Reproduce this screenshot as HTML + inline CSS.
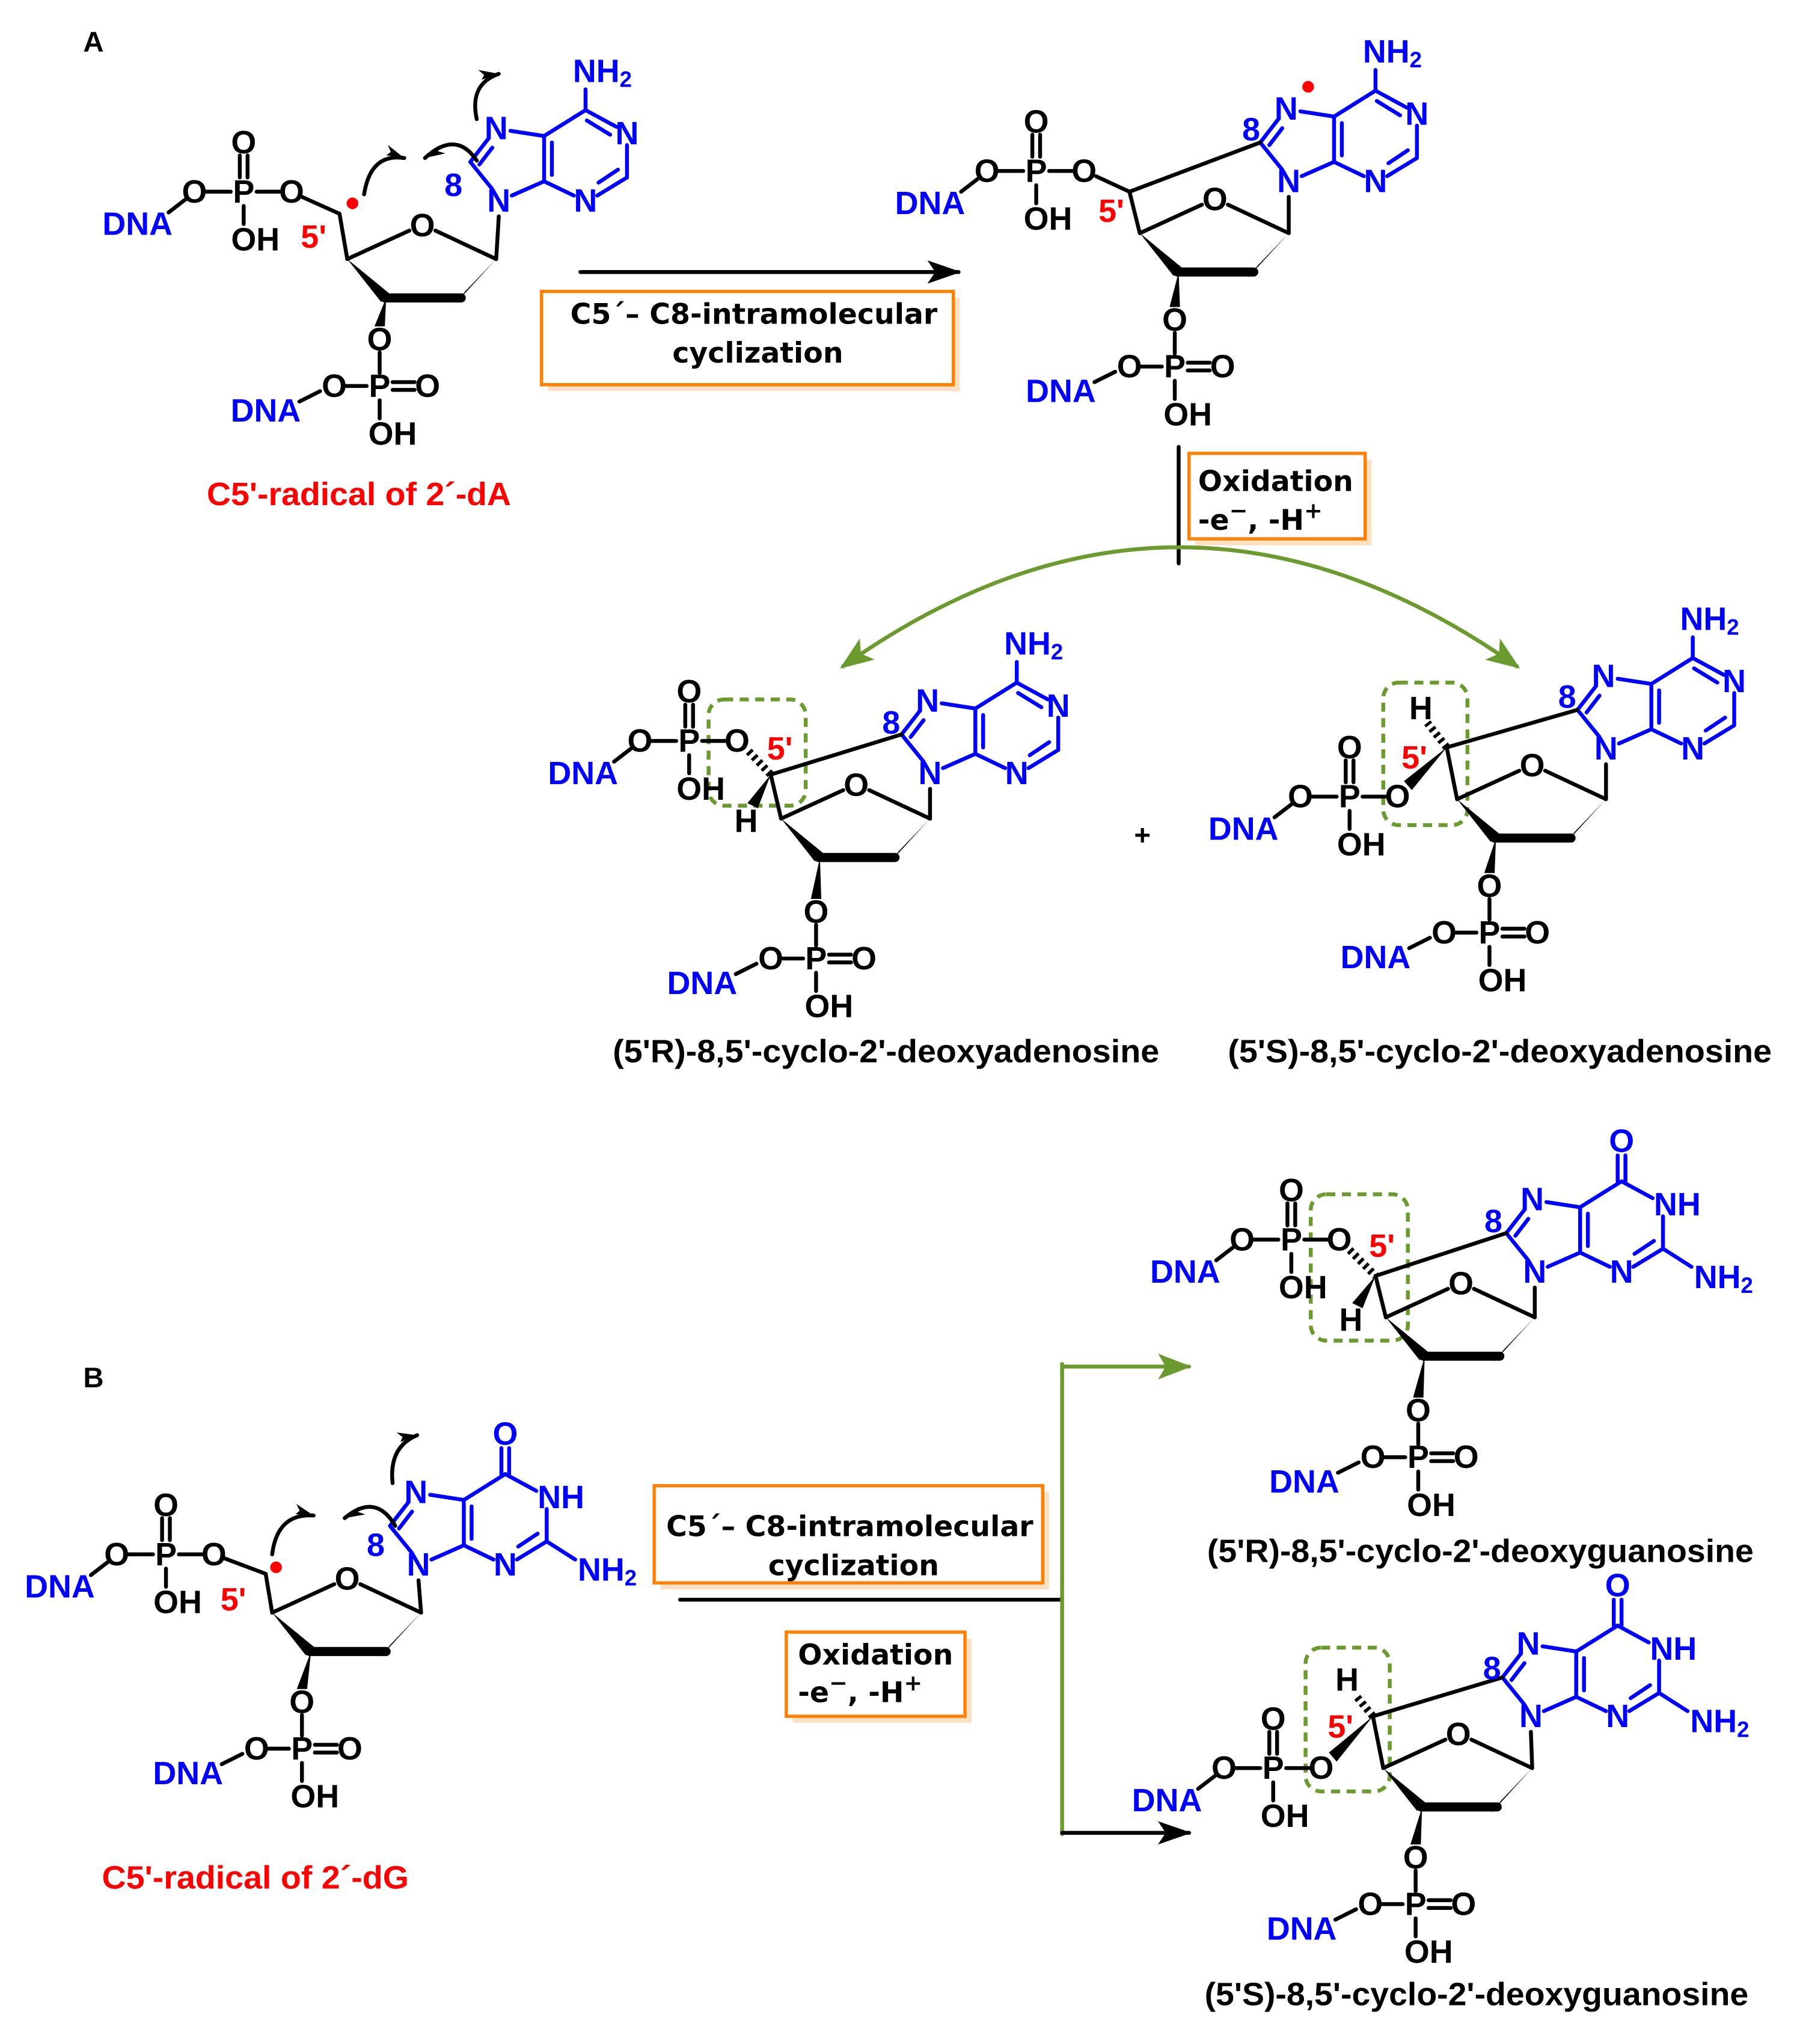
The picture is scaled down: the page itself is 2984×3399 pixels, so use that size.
<!DOCTYPE html>
<html><head><meta charset="utf-8">
<style>
html,body{margin:0;padding:0;background:#fff;}
svg{display:block;}
.t{font-family:"Liberation Sans Narrow","Liberation Sans",sans-serif;font-weight:bold;font-size:25px;text-anchor:middle;dominant-baseline:central;fill:#000;}
.bl{fill:#0000ff;}
.rd{fill:#ff0000;}
.lab{font-family:"Liberation Sans",sans-serif;font-weight:bold;font-size:25px;text-anchor:middle;fill:#000;}
.bx{font-family:"DejaVu Sans",sans-serif;font-weight:bold;font-size:22px;fill:#000;}
line,path.b{stroke:#000;stroke-width:3;stroke-linecap:round;fill:none;}
.bb line{stroke:#0000ff;}
polygon{fill:#000;}
.hash{stroke-width:6;stroke-dasharray:2.5,3;stroke-linecap:butt;}
.gbox{fill:none;stroke:#6b9a2f;stroke-width:3;stroke-dasharray:7,5;}
</style></head><body>
<svg width="2984" height="3399" viewBox="0 0 1385 1578" xmlns="http://www.w3.org/2000/svg">
<defs>
<marker id="ga" markerWidth="26" markerHeight="20" refX="24" refY="10" orient="auto-start-reverse" markerUnits="userSpaceOnUse"><path d="M0,0 L26,10 L0,20 L6,10 Z" fill="#6b9a2f"/></marker>
<marker id="ka" markerWidth="26" markerHeight="18" refX="24" refY="9" orient="auto" markerUnits="userSpaceOnUse"><path d="M0,0 L26,9 L0,18 L6,9 Z" fill="#000"/></marker>
<marker id="fh" markerWidth="16" markerHeight="12" refX="14" refY="8" orient="auto" markerUnits="userSpaceOnUse"><path d="M0,0 L14,8 L0,8 L3,5 Z" fill="#000"/></marker>
</defs>
<rect width="1385" height="1578" fill="#fff"/>

<text class="lab" x="72" y="40" style="font-size:22px">A</text>
<text class="lab" x="72" y="1071" style="font-size:22px">B</text>

<!-- ========== Molecule 1 ========== -->
<g transform="translate(188,148)"><line x1="-30" y1="0" x2="-10" y2="0"/><line x1="10" y1="0" x2="28" y2="0"/><line x1="-3" y1="-28" x2="-3" y2="-11"/><line x1="3" y1="-28" x2="3" y2="-11"/><line x1="0" y1="11" x2="0" y2="25"/><line x1="-58" y1="16" x2="-45" y2="6"/><text class="t" x="-38" y="0">O</text><text class="t" x="0" y="0">P</text><text class="t" x="37" y="0">O</text><text class="t" x="0" y="-38">O</text><text class="t" x="9" y="37">OH</text><text class="t bl" x="-82" y="25">DNA</text></g>
<g transform="translate(268,200)"><line x1="0" y1="0" x2="48" y2="-22"/><line x1="68" y1="-22" x2="115" y2="0"/><polygon points="0,0 26,33 33,27"/><line x1="29" y1="30" x2="88" y2="30" style="stroke-width:7"/><polygon points="83,35 91,25 115,0"/><text class="t" x="58" y="-26">O</text></g>
<g transform="translate(293,298)"><line x1="0" y1="-26" x2="0" y2="-10"/><line x1="-26" y1="0" x2="-10" y2="0"/><line x1="10" y1="-3" x2="27" y2="-3"/><line x1="10" y1="3" x2="27" y2="3"/><line x1="0" y1="11" x2="0" y2="25"/><line x1="-62" y1="12" x2="-46" y2="4"/><text class="t" x="0" y="-36">O</text><text class="t" x="-35" y="0">O</text><text class="t" x="0" y="0">P</text><text class="t" x="37" y="0">O</text><text class="t" x="10" y="37">OH</text><text class="t bl" x="-88" y="19">DNA</text></g>
<g class="bb" transform="translate(385,155)"><line x1="-5" y1="-9" x2="-22" y2="-30"/><line x1="-22" y1="-30" x2="-8" y2="-48"/><line x1="-15" y1="-28" x2="-5" y2="-41"/><line x1="9" y1="-54" x2="35" y2="-50"/><line x1="35" y1="-50" x2="35" y2="-15"/><line x1="41" y1="-45" x2="41" y2="-20"/><line x1="35" y1="-15" x2="10" y2="-4"/><line x1="35" y1="-50" x2="67" y2="-70"/><line x1="67" y1="-70" x2="91" y2="-57"/><line x1="68" y1="-62" x2="86" y2="-51"/><line x1="99" y1="-43" x2="99" y2="-18"/><line x1="99" y1="-18" x2="76" y2="-4"/><line x1="92" y1="-24" x2="77" y2="-14"/><line x1="58" y1="-4" x2="35" y2="-15"/><line x1="67" y1="-70" x2="67" y2="-86"/><text class="t bl" x="0" y="0">N</text><text class="t bl" x="-2" y="-56">N</text><text class="t bl" x="99" y="-52">N</text><text class="t bl" x="67" y="0">N</text><text class="t bl" x="80" y="-100">NH<tspan font-size="17" dy="6">2</tspan></text></g>
<line x1="233" y1="152" x2="262" y2="165"/><line x1="262" y1="165" x2="268" y2="200"/><line x1="383" y1="200" x2="385" y2="167"/>
<polygon points="298,230 289,252 297,252"/>
<circle cx="272" cy="157" r="4.5" fill="#f00"/>
<text class="t rd" x="242" y="183">5'</text><text class="t bl" x="350" y="143">8</text>
<path class="b" d="M281,150 Q286,118 312,122" marker-end="url(#fh)"/>
<path class="b" d="M368,124 Q352,100 328,122" marker-end="url(#fh)"/>
<path class="b" d="M368,92 Q362,65 385,57" marker-end="url(#fh)"/>
<text class="lab rd" x="277" y="390" style="fill:#f00" textLength="235" lengthAdjust="spacingAndGlyphs">C5'-radical of 2´-dA</text>

<!-- arrow A -->
<line x1="448" y1="210" x2="740" y2="210" marker-end="url(#ka)"/>
<rect x="423" y="230" width="318" height="72" fill="#fde0c2"/>
<rect x="418" y="225" width="318" height="72" fill="#fff" stroke="#ff8000" stroke-width="2.5"/>
<text class="bx" x="582" y="250" text-anchor="middle">C5´– C8-intramolecular</text>
<text class="bx" x="585" y="280" text-anchor="middle">cyclization</text>

<!-- ========== Molecule 2 ========== -->
<g transform="translate(800,132)"><line x1="-30" y1="0" x2="-10" y2="0"/><line x1="10" y1="0" x2="28" y2="0"/><line x1="-3" y1="-28" x2="-3" y2="-11"/><line x1="3" y1="-28" x2="3" y2="-11"/><line x1="0" y1="11" x2="0" y2="25"/><line x1="-58" y1="16" x2="-45" y2="6"/><text class="t" x="-38" y="0">O</text><text class="t" x="0" y="0">P</text><text class="t" x="37" y="0">O</text><text class="t" x="0" y="-38">O</text><text class="t" x="9" y="37">OH</text><text class="t bl" x="-82" y="25">DNA</text></g>
<g transform="translate(880,180)"><line x1="0" y1="0" x2="48" y2="-22"/><line x1="68" y1="-22" x2="115" y2="0"/><polygon points="0,0 26,33 33,27"/><line x1="29" y1="30" x2="88" y2="30" style="stroke-width:7"/><polygon points="83,35 91,25 115,0"/><text class="t" x="58" y="-26">O</text></g>
<g transform="translate(907,283)"><line x1="0" y1="-26" x2="0" y2="-10"/><line x1="-26" y1="0" x2="-10" y2="0"/><line x1="10" y1="-3" x2="27" y2="-3"/><line x1="10" y1="3" x2="27" y2="3"/><line x1="0" y1="11" x2="0" y2="25"/><line x1="-62" y1="12" x2="-46" y2="4"/><text class="t" x="0" y="-36">O</text><text class="t" x="-35" y="0">O</text><text class="t" x="0" y="0">P</text><text class="t" x="37" y="0">O</text><text class="t" x="10" y="37">OH</text><text class="t bl" x="-88" y="19">DNA</text></g>
<g class="bb" transform="translate(995,140)"><line x1="-5" y1="-9" x2="-22" y2="-30"/><line x1="-22" y1="-30" x2="-8" y2="-48"/><line x1="-15" y1="-28" x2="-5" y2="-41"/><line x1="9" y1="-54" x2="35" y2="-50"/><line x1="35" y1="-50" x2="35" y2="-15"/><line x1="41" y1="-45" x2="41" y2="-20"/><line x1="35" y1="-15" x2="10" y2="-4"/><line x1="35" y1="-50" x2="67" y2="-70"/><line x1="67" y1="-70" x2="91" y2="-57"/><line x1="68" y1="-62" x2="86" y2="-51"/><line x1="99" y1="-43" x2="99" y2="-18"/><line x1="99" y1="-18" x2="76" y2="-4"/><line x1="92" y1="-24" x2="77" y2="-14"/><line x1="58" y1="-4" x2="35" y2="-15"/><line x1="67" y1="-70" x2="67" y2="-86"/><text class="t bl" x="0" y="0">N</text><text class="t bl" x="-2" y="-56">N</text><text class="t bl" x="99" y="-52">N</text><text class="t bl" x="67" y="0">N</text><text class="t bl" x="80" y="-100">NH<tspan font-size="17" dy="6">2</tspan></text></g>
<line x1="846" y1="136" x2="872" y2="148"/><line x1="872" y1="148" x2="880" y2="180"/><line x1="872" y1="148" x2="973" y2="110"/><line x1="995" y1="180" x2="995" y2="152"/>
<polygon points="910,210 903,237 911,237"/>
<text class="t rd" x="858" y="163">5'</text><text class="t bl" x="966" y="100">8</text>
<circle cx="1010" cy="67" r="4.5" fill="#f00"/>

<!-- Oxidation A -->
<line x1="910" y1="345" x2="910" y2="435"/>
<rect x="923" y="355" width="136" height="66" fill="#fde0c2"/>
<rect x="918" y="350" width="136" height="66" fill="#fff" stroke="#ff8000" stroke-width="2.5"/>
<text class="bx" x="925" y="379">Oxidation</text>
<text class="bx" x="925" y="409">-e<tspan dy="-9" font-size="17">−</tspan><tspan dy="9">, -H</tspan><tspan dy="-9" font-size="17">+</tspan></text>
<path d="M650,515 Q910,330 1172,515" fill="none" stroke="#6b9a2f" stroke-width="3" marker-start="url(#ga)" marker-end="url(#ga)"/>

<!-- ========== Molecule 3 (5'R dA) ========== -->
<rect class="gbox" x="547" y="540" width="75" height="82" rx="12"/>
<g transform="translate(532,572)"><line x1="-30" y1="0" x2="-10" y2="0"/><line x1="10" y1="0" x2="28" y2="0"/><line x1="-3" y1="-28" x2="-3" y2="-11"/><line x1="3" y1="-28" x2="3" y2="-11"/><line x1="0" y1="11" x2="0" y2="25"/><line x1="-58" y1="16" x2="-45" y2="6"/><text class="t" x="-38" y="0">O</text><text class="t" x="0" y="0">P</text><text class="t" x="37" y="0">O</text><text class="t" x="0" y="-38">O</text><text class="t" x="9" y="37">OH</text><text class="t bl" x="-82" y="25">DNA</text></g>
<g transform="translate(603,632)"><line x1="0" y1="0" x2="48" y2="-22"/><line x1="68" y1="-22" x2="115" y2="0"/><polygon points="0,0 26,33 33,27"/><line x1="29" y1="30" x2="88" y2="30" style="stroke-width:7"/><polygon points="83,35 91,25 115,0"/><text class="t" x="58" y="-26">O</text></g>
<g transform="translate(630,740)"><line x1="0" y1="-26" x2="0" y2="-10"/><line x1="-26" y1="0" x2="-10" y2="0"/><line x1="10" y1="-3" x2="27" y2="-3"/><line x1="10" y1="3" x2="27" y2="3"/><line x1="0" y1="11" x2="0" y2="25"/><line x1="-62" y1="12" x2="-46" y2="4"/><text class="t" x="0" y="-36">O</text><text class="t" x="-35" y="0">O</text><text class="t" x="0" y="0">P</text><text class="t" x="37" y="0">O</text><text class="t" x="10" y="37">OH</text><text class="t bl" x="-88" y="19">DNA</text></g>
<g class="bb" transform="translate(718,597)"><line x1="-5" y1="-9" x2="-22" y2="-30"/><line x1="-22" y1="-30" x2="-8" y2="-48"/><line x1="-15" y1="-28" x2="-5" y2="-41"/><line x1="9" y1="-54" x2="35" y2="-50"/><line x1="35" y1="-50" x2="35" y2="-15"/><line x1="41" y1="-45" x2="41" y2="-20"/><line x1="35" y1="-15" x2="10" y2="-4"/><line x1="35" y1="-50" x2="67" y2="-70"/><line x1="67" y1="-70" x2="91" y2="-57"/><line x1="68" y1="-62" x2="86" y2="-51"/><line x1="99" y1="-43" x2="99" y2="-18"/><line x1="99" y1="-18" x2="76" y2="-4"/><line x1="92" y1="-24" x2="77" y2="-14"/><line x1="58" y1="-4" x2="35" y2="-15"/><line x1="67" y1="-70" x2="67" y2="-86"/><text class="t bl" x="0" y="0">N</text><text class="t bl" x="-2" y="-56">N</text><text class="t bl" x="99" y="-52">N</text><text class="t bl" x="67" y="0">N</text><text class="t bl" x="80" y="-100">NH<tspan font-size="17" dy="6">2</tspan></text></g>
<line class="hash" x1="578" y1="580" x2="595" y2="598"/>
<line x1="595" y1="598" x2="603" y2="632"/><line x1="595" y1="598" x2="696" y2="567"/><line x1="718" y1="632" x2="718" y2="609"/>
<polygon points="595,598 577,620 585,624"/>
<text class="t" x="576" y="634">H</text>
<polygon points="633,662 626,694 634,694"/>
<text class="t rd" x="602" y="578">5'</text><text class="t bl" x="688" y="558">8</text>
<text class="lab" x="684" y="820" textLength="422" lengthAdjust="spacingAndGlyphs">(5'R)-8,5'-cyclo-2'-deoxyadenosine</text>

<text class="lab" x="882" y="652" style="font-size:22px">+</text>

<!-- ========== Molecule 4 (5'S dA) ========== -->
<rect class="gbox" x="1068" y="527" width="65" height="110" rx="12"/>
<g transform="translate(1042,615)"><line x1="-30" y1="0" x2="-10" y2="0"/><line x1="10" y1="0" x2="28" y2="0"/><line x1="-3" y1="-28" x2="-3" y2="-11"/><line x1="3" y1="-28" x2="3" y2="-11"/><line x1="0" y1="11" x2="0" y2="25"/><line x1="-58" y1="16" x2="-45" y2="6"/><text class="t" x="-38" y="0">O</text><text class="t" x="0" y="0">P</text><text class="t" x="37" y="0">O</text><text class="t" x="0" y="-38">O</text><text class="t" x="9" y="37">OH</text><text class="t bl" x="-82" y="25">DNA</text></g>
<g transform="translate(1125,617)"><line x1="0" y1="0" x2="48" y2="-22"/><line x1="68" y1="-22" x2="115" y2="0"/><polygon points="0,0 26,33 33,27"/><line x1="29" y1="30" x2="88" y2="30" style="stroke-width:7"/><polygon points="83,35 91,25 115,0"/><text class="t" x="58" y="-26">O</text></g>
<g transform="translate(1150,720)"><line x1="0" y1="-26" x2="0" y2="-10"/><line x1="-26" y1="0" x2="-10" y2="0"/><line x1="10" y1="-3" x2="27" y2="-3"/><line x1="10" y1="3" x2="27" y2="3"/><line x1="0" y1="11" x2="0" y2="25"/><line x1="-62" y1="12" x2="-46" y2="4"/><text class="t" x="0" y="-36">O</text><text class="t" x="-35" y="0">O</text><text class="t" x="0" y="0">P</text><text class="t" x="37" y="0">O</text><text class="t" x="10" y="37">OH</text><text class="t bl" x="-88" y="19">DNA</text></g>
<g class="bb" transform="translate(1240,578)"><line x1="-5" y1="-9" x2="-22" y2="-30"/><line x1="-22" y1="-30" x2="-8" y2="-48"/><line x1="-15" y1="-28" x2="-5" y2="-41"/><line x1="9" y1="-54" x2="35" y2="-50"/><line x1="35" y1="-50" x2="35" y2="-15"/><line x1="41" y1="-45" x2="41" y2="-20"/><line x1="35" y1="-15" x2="10" y2="-4"/><line x1="35" y1="-50" x2="67" y2="-70"/><line x1="67" y1="-70" x2="91" y2="-57"/><line x1="68" y1="-62" x2="86" y2="-51"/><line x1="99" y1="-43" x2="99" y2="-18"/><line x1="99" y1="-18" x2="76" y2="-4"/><line x1="92" y1="-24" x2="77" y2="-14"/><line x1="58" y1="-4" x2="35" y2="-15"/><line x1="67" y1="-70" x2="67" y2="-86"/><text class="t bl" x="0" y="0">N</text><text class="t bl" x="-2" y="-56">N</text><text class="t bl" x="99" y="-52">N</text><text class="t bl" x="67" y="0">N</text><text class="t bl" x="80" y="-100">NH<tspan font-size="17" dy="6">2</tspan></text></g>
<polygon points="1117,577 1084,603 1090,610"/>
<line class="hash" x1="1117" y1="577" x2="1102" y2="558"/>
<text class="t" x="1097" y="547">H</text>
<line x1="1117" y1="577" x2="1125" y2="617"/><line x1="1117" y1="577" x2="1218" y2="548"/><line x1="1240" y1="617" x2="1240" y2="590"/>
<polygon points="1155,647 1146,674 1154,674"/>
<text class="t rd" x="1092" y="585">5'</text><text class="t bl" x="1210" y="538">8</text>
<text class="lab" x="1158" y="820" textLength="420" lengthAdjust="spacingAndGlyphs">(5'S)-8,5'-cyclo-2'-deoxyadenosine</text>

<!-- ========== Molecule 5 (dG radical) ========== -->
<g transform="translate(128,1200)"><line x1="-30" y1="0" x2="-10" y2="0"/><line x1="10" y1="0" x2="28" y2="0"/><line x1="-3" y1="-28" x2="-3" y2="-11"/><line x1="3" y1="-28" x2="3" y2="-11"/><line x1="0" y1="11" x2="0" y2="25"/><line x1="-58" y1="16" x2="-45" y2="6"/><text class="t" x="-38" y="0">O</text><text class="t" x="0" y="0">P</text><text class="t" x="37" y="0">O</text><text class="t" x="0" y="-38">O</text><text class="t" x="9" y="37">OH</text><text class="t bl" x="-82" y="25">DNA</text></g>
<g transform="translate(210,1245)"><line x1="0" y1="0" x2="48" y2="-22"/><line x1="68" y1="-22" x2="115" y2="0"/><polygon points="0,0 26,33 33,27"/><line x1="29" y1="30" x2="88" y2="30" style="stroke-width:7"/><polygon points="83,35 91,25 115,0"/><text class="t" x="58" y="-26">O</text></g>
<g transform="translate(233,1350)"><line x1="0" y1="-26" x2="0" y2="-10"/><line x1="-26" y1="0" x2="-10" y2="0"/><line x1="10" y1="-3" x2="27" y2="-3"/><line x1="10" y1="3" x2="27" y2="3"/><line x1="0" y1="11" x2="0" y2="25"/><line x1="-62" y1="12" x2="-46" y2="4"/><text class="t" x="0" y="-36">O</text><text class="t" x="-35" y="0">O</text><text class="t" x="0" y="0">P</text><text class="t" x="37" y="0">O</text><text class="t" x="10" y="37">OH</text><text class="t bl" x="-88" y="19">DNA</text></g>
<g class="bb" transform="translate(323,1208)"><line x1="-5" y1="-9" x2="-22" y2="-30"/><line x1="-22" y1="-30" x2="-8" y2="-48"/><line x1="-15" y1="-28" x2="-5" y2="-41"/><line x1="9" y1="-54" x2="35" y2="-50"/><line x1="35" y1="-50" x2="35" y2="-15"/><line x1="41" y1="-45" x2="41" y2="-20"/><line x1="35" y1="-15" x2="10" y2="-4"/><line x1="35" y1="-50" x2="67" y2="-70"/><line x1="67" y1="-70" x2="91" y2="-57"/><line x1="99" y1="-43" x2="99" y2="-18"/><line x1="99" y1="-18" x2="76" y2="-4"/><line x1="92" y1="-24" x2="77" y2="-14"/><line x1="58" y1="-4" x2="35" y2="-15"/><line x1="64" y1="-70" x2="64" y2="-90"/><line x1="70" y1="-70" x2="70" y2="-90"/><line x1="99" y1="-18" x2="121" y2="-4"/><text class="t bl" x="0" y="0">N</text><text class="t bl" x="-2" y="-56">N</text><text class="t bl" x="92" y="-52" style="text-anchor:start">NH</text><text class="t bl" x="67" y="0">N</text><text class="t bl" x="67" y="-101">O</text><text class="t bl" x="123" y="4" style="text-anchor:start">NH<tspan font-size="17" dy="6">2</tspan></text></g>
<line x1="173" y1="1203" x2="205" y2="1215"/><line x1="205" y1="1215" x2="210" y2="1245"/><line x1="325" y1="1245" x2="323" y2="1220"/>
<polygon points="240,1275 229,1304 237,1304"/>
<circle cx="213" cy="1210" r="4.5" fill="#f00"/>
<text class="t rd" x="180" y="1235">5'</text><text class="t bl" x="290" y="1193">8</text>
<path class="b" d="M210,1200 Q214,1168 242,1170" marker-end="url(#fh)"/>
<path class="b" d="M305,1178 Q290,1152 266,1172" marker-end="url(#fh)"/>
<path class="b" d="M303,1145 Q300,1117 322,1108" marker-end="url(#fh)"/>
<text class="lab" x="197" y="1458" style="fill:#f00" textLength="237" lengthAdjust="spacingAndGlyphs">C5'-radical of 2´-dG</text>

<!-- B middle -->
<rect x="510" y="1152" width="300" height="75" fill="#fde0c2"/>
<rect x="505" y="1147" width="300" height="75" fill="#fff" stroke="#ff8000" stroke-width="2.5"/>
<text class="bx" x="656" y="1186" text-anchor="middle">C5´– C8-intramolecular</text>
<text class="bx" x="659" y="1216" text-anchor="middle">cyclization</text>
<line x1="525" y1="1235" x2="820" y2="1235"/>
<rect x="612" y="1265" width="138" height="65" fill="#fde0c2"/>
<rect x="607" y="1260" width="138" height="65" fill="#fff" stroke="#ff8000" stroke-width="2.5"/>
<text class="bx" x="616" y="1285">Oxidation</text>
<text class="bx" x="616" y="1314">-e<tspan dy="-9" font-size="17">−</tspan><tspan dy="9">, -H</tspan><tspan dy="-9" font-size="17">+</tspan></text>
<line x1="820" y1="1053" x2="820" y2="1416" style="stroke:#6b9a2f"/>
<line x1="820" y1="1055" x2="918" y2="1055" style="stroke:#6b9a2f" marker-end="url(#ga)"/>
<line x1="820" y1="1415" x2="918" y2="1415" marker-end="url(#ka)"/>

<!-- ========== Molecule 6 (5'R dG) ========== -->
<rect class="gbox" x="1012" y="922" width="75" height="113" rx="12"/>
<g transform="translate(997,957)"><line x1="-30" y1="0" x2="-10" y2="0"/><line x1="10" y1="0" x2="28" y2="0"/><line x1="-3" y1="-28" x2="-3" y2="-11"/><line x1="3" y1="-28" x2="3" y2="-11"/><line x1="0" y1="11" x2="0" y2="25"/><line x1="-58" y1="16" x2="-45" y2="6"/><text class="t" x="-38" y="0">O</text><text class="t" x="0" y="0">P</text><text class="t" x="37" y="0">O</text><text class="t" x="0" y="-38">O</text><text class="t" x="9" y="37">OH</text><text class="t bl" x="-82" y="25">DNA</text></g>
<g transform="translate(1070,1017)"><line x1="0" y1="0" x2="48" y2="-22"/><line x1="68" y1="-22" x2="115" y2="0"/><polygon points="0,0 26,33 33,27"/><line x1="29" y1="30" x2="88" y2="30" style="stroke-width:7"/><polygon points="83,35 91,25 115,0"/><text class="t" x="58" y="-26">O</text></g>
<g transform="translate(1095,1125)"><line x1="0" y1="-26" x2="0" y2="-10"/><line x1="-26" y1="0" x2="-10" y2="0"/><line x1="10" y1="-3" x2="27" y2="-3"/><line x1="10" y1="3" x2="27" y2="3"/><line x1="0" y1="11" x2="0" y2="25"/><line x1="-62" y1="12" x2="-46" y2="4"/><text class="t" x="0" y="-36">O</text><text class="t" x="-35" y="0">O</text><text class="t" x="0" y="0">P</text><text class="t" x="37" y="0">O</text><text class="t" x="10" y="37">OH</text><text class="t bl" x="-88" y="19">DNA</text></g>
<g class="bb" transform="translate(1185,982)"><line x1="-5" y1="-9" x2="-22" y2="-30"/><line x1="-22" y1="-30" x2="-8" y2="-48"/><line x1="-15" y1="-28" x2="-5" y2="-41"/><line x1="9" y1="-54" x2="35" y2="-50"/><line x1="35" y1="-50" x2="35" y2="-15"/><line x1="41" y1="-45" x2="41" y2="-20"/><line x1="35" y1="-15" x2="10" y2="-4"/><line x1="35" y1="-50" x2="67" y2="-70"/><line x1="67" y1="-70" x2="91" y2="-57"/><line x1="99" y1="-43" x2="99" y2="-18"/><line x1="99" y1="-18" x2="76" y2="-4"/><line x1="92" y1="-24" x2="77" y2="-14"/><line x1="58" y1="-4" x2="35" y2="-15"/><line x1="64" y1="-70" x2="64" y2="-90"/><line x1="70" y1="-70" x2="70" y2="-90"/><line x1="99" y1="-18" x2="121" y2="-4"/><text class="t bl" x="0" y="0">N</text><text class="t bl" x="-2" y="-56">N</text><text class="t bl" x="92" y="-52" style="text-anchor:start">NH</text><text class="t bl" x="67" y="0">N</text><text class="t bl" x="67" y="-101">O</text><text class="t bl" x="123" y="4" style="text-anchor:start">NH<tspan font-size="17" dy="6">2</tspan></text></g>
<line class="hash" x1="1042" y1="965" x2="1062" y2="985"/>
<line x1="1062" y1="985" x2="1070" y2="1017"/><line x1="1062" y1="985" x2="1163" y2="952"/><line x1="1185" y1="1017" x2="1185" y2="994"/>
<polygon points="1062,985 1044,1006 1052,1010"/>
<text class="t" x="1043" y="1019">H</text>
<polygon points="1100,1047 1091,1079 1099,1079"/>
<text class="t rd" x="1067" y="962">5'</text><text class="t bl" x="1153" y="943">8</text>
<text class="lab" x="1143" y="1206" textLength="422" lengthAdjust="spacingAndGlyphs">(5'R)-8,5'-cyclo-2'-deoxyguanosine</text>

<!-- ========== Molecule 7 (5'S dG) ========== -->
<rect class="gbox" x="1008" y="1272" width="65" height="111" rx="12"/>
<g transform="translate(983,1365)"><line x1="-30" y1="0" x2="-10" y2="0"/><line x1="10" y1="0" x2="28" y2="0"/><line x1="-3" y1="-28" x2="-3" y2="-11"/><line x1="3" y1="-28" x2="3" y2="-11"/><line x1="0" y1="11" x2="0" y2="25"/><line x1="-58" y1="16" x2="-45" y2="6"/><text class="t" x="-38" y="0">O</text><text class="t" x="0" y="0">P</text><text class="t" x="37" y="0">O</text><text class="t" x="0" y="-38">O</text><text class="t" x="9" y="37">OH</text><text class="t bl" x="-82" y="25">DNA</text></g>
<g transform="translate(1068,1365)"><line x1="0" y1="0" x2="48" y2="-22"/><line x1="68" y1="-22" x2="115" y2="0"/><polygon points="0,0 26,33 33,27"/><line x1="29" y1="30" x2="88" y2="30" style="stroke-width:7"/><polygon points="83,35 91,25 115,0"/><text class="t" x="58" y="-26">O</text></g>
<g transform="translate(1093,1470)"><line x1="0" y1="-26" x2="0" y2="-10"/><line x1="-26" y1="0" x2="-10" y2="0"/><line x1="10" y1="-3" x2="27" y2="-3"/><line x1="10" y1="3" x2="27" y2="3"/><line x1="0" y1="11" x2="0" y2="25"/><line x1="-62" y1="12" x2="-46" y2="4"/><text class="t" x="0" y="-36">O</text><text class="t" x="-35" y="0">O</text><text class="t" x="0" y="0">P</text><text class="t" x="37" y="0">O</text><text class="t" x="10" y="37">OH</text><text class="t bl" x="-88" y="19">DNA</text></g>
<g class="bb" transform="translate(1182,1325)"><line x1="-5" y1="-9" x2="-22" y2="-30"/><line x1="-22" y1="-30" x2="-8" y2="-48"/><line x1="-15" y1="-28" x2="-5" y2="-41"/><line x1="9" y1="-54" x2="35" y2="-50"/><line x1="35" y1="-50" x2="35" y2="-15"/><line x1="41" y1="-45" x2="41" y2="-20"/><line x1="35" y1="-15" x2="10" y2="-4"/><line x1="35" y1="-50" x2="67" y2="-70"/><line x1="67" y1="-70" x2="91" y2="-57"/><line x1="99" y1="-43" x2="99" y2="-18"/><line x1="99" y1="-18" x2="76" y2="-4"/><line x1="92" y1="-24" x2="77" y2="-14"/><line x1="58" y1="-4" x2="35" y2="-15"/><line x1="64" y1="-70" x2="64" y2="-90"/><line x1="70" y1="-70" x2="70" y2="-90"/><line x1="99" y1="-18" x2="121" y2="-4"/><text class="t bl" x="0" y="0">N</text><text class="t bl" x="-2" y="-56">N</text><text class="t bl" x="92" y="-52" style="text-anchor:start">NH</text><text class="t bl" x="67" y="0">N</text><text class="t bl" x="67" y="-101">O</text><text class="t bl" x="123" y="4" style="text-anchor:start">NH<tspan font-size="17" dy="6">2</tspan></text></g>
<polygon points="1060,1325 1026,1353 1032,1360"/>
<line class="hash" x1="1060" y1="1325" x2="1046" y2="1308"/>
<text class="t" x="1040" y="1297">H</text>
<line x1="1060" y1="1325" x2="1068" y2="1365"/><line x1="1060" y1="1325" x2="1160" y2="1295"/><line x1="1183" y1="1365" x2="1182" y2="1337"/>
<polygon points="1098,1395 1089,1424 1097,1424"/>
<text class="t rd" x="1035" y="1333">5'</text><text class="t bl" x="1152" y="1288">8</text>
<text class="lab" x="1140" y="1548" textLength="420" lengthAdjust="spacingAndGlyphs">(5'S)-8,5'-cyclo-2'-deoxyguanosine</text>
</svg>
</body></html>
